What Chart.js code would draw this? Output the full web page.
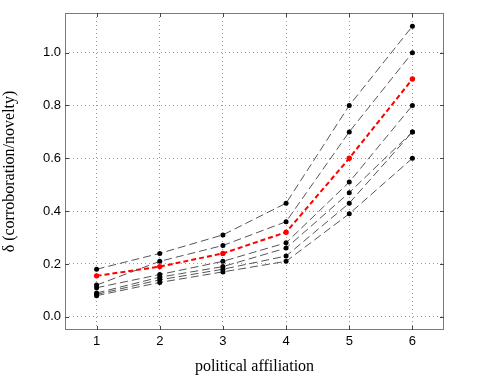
<!DOCTYPE html>
<html>
<head>
<meta charset="utf-8">
<script src="https://cdn.jsdelivr.net/npm/chart.js@4/dist/chart.umd.min.js"></script>
<style>
html,body{margin:0;padding:0;background:#fff;}
#wrap{width:491px;height:378px;position:relative;}
</style>
</head>
<body>
<div id="wrap"><canvas id="c" width="491" height="378"></canvas></div>
<script>
const categories = [1, 2, 3, 4, 5, 6];
const seriesA = [0.18, 0.24, 0.31, 0.43, 0.80, 1.10];
const seriesB = [0.12, 0.21, 0.27, 0.36, 0.70, 1.00];
const seriesC = [0.11, 0.16, 0.21, 0.28, 0.51, 0.80];
const seriesD = [0.09, 0.15, 0.19, 0.26, 0.47, 0.70];
const seriesE = [0.085, 0.14, 0.18, 0.23, 0.43, 0.70];
const seriesF = [0.08, 0.13, 0.17, 0.21, 0.39, 0.60];
const seriesRed = [0.155, 0.19, 0.24, 0.32, 0.60, 0.90];
const yTicks = [0.0, 0.2, 0.4, 0.6, 0.8, 1.0];
const xTitle = 'political affiliation';
const yTitle = 'δ (corroboration/novelty)';

function toXY(arr){ return arr.map((v,i)=>({x:categories[i], y:v})); }
function blackSet(arr){
  return {data: toXY(arr), borderColor:'#555', borderWidth:1, borderDash:[8,4],
    pointRadius:2.5, pointBackgroundColor:'#000', pointBorderColor:'#000', pointBorderWidth:0, fill:false, tension:0};
}
const datasets = [seriesA, seriesB, seriesC, seriesD, seriesE, seriesF].map(blackSet);
datasets.push({data: toXY(seriesRed), borderColor:'#ff0000', borderWidth:2, borderDash:[5,3],
  pointRadius:2.7, pointBackgroundColor:'#ff0000', pointBorderColor:'#ff0000', pointBorderWidth:0, fill:false, tension:0});

const boxPlugin = {
  id:'box',
  afterDraw(chart){
    const {ctx, chartArea:a, scales} = chart;
    ctx.save();
    ctx.strokeStyle = '#7a7a7a';
    ctx.lineWidth = 1;
    ctx.setLineDash([]);
    ctx.strokeRect(Math.round(a.left)+0.5, Math.round(a.top)+0.5, Math.round(a.right-a.left)-1, Math.round(a.bottom-a.top)-1);
    ctx.strokeStyle = '#444';
    ctx.beginPath();
    const L = 4;
    scales.x.ticks.forEach((t,i)=>{
      const px = Math.round(scales.x.getPixelForTick(i))+0.5;
      ctx.moveTo(px, a.bottom); ctx.lineTo(px, a.bottom-L);
      ctx.moveTo(px, a.top); ctx.lineTo(px, a.top+L);
    });
    scales.y.ticks.forEach((t,i)=>{
      const py = Math.round(scales.y.getPixelForTick(i))+0.5;
      ctx.moveTo(a.left, py); ctx.lineTo(a.left+L, py);
      ctx.moveTo(a.right, py); ctx.lineTo(a.right-L, py);
    });
    ctx.stroke();
    ctx.restore();
  }
};

new Chart(document.getElementById('c'), {
  type:'line',
  data:{datasets},
  plugins:[boxPlugin],
  options:{
    responsive:false,
    animation:false,
    events:[],
    layout:{padding:{left:0, right:47, top:13, bottom:0}},
    plugins:{legend:{display:false}, tooltip:{enabled:false}},
    scales:{
      x:{
        type:'linear', min:0.5, max:6.5,
        afterBuildTicks(s){ s.ticks = categories.map(v=>({value:v})); },
        ticks:{font:{family:'Liberation Sans', size:13}, color:'#000', padding:4, maxRotation:0},
        grid:{color:'#999', lineWidth:1, drawTicks:false},
        border:{display:false, dash:[1,3]},
        title:{display:true, text:xTitle, font:{family:'Liberation Serif', size:16}, color:'#000', padding:{top:4,bottom:2}},
        afterFit(s){ s.height = 48; }
      },
      y:{
        type:'linear', min:-0.05, max:1.15,
        afterBuildTicks(s){ s.ticks = yTicks.map(v=>({value:v})); },
        ticks:{font:{family:'Liberation Sans', size:13}, color:'#000', padding:4,
          callback:(v)=>Number(v).toFixed(1)},
        grid:{color:'#999', lineWidth:1, drawTicks:false},
        border:{display:false, dash:[1,3]},
        title:{display:true, text:yTitle, font:{family:'Liberation Serif', size:16}, color:'#000', padding:{top:0,bottom:6}},
        afterFit(s){ s.width = 65; }
      }
    }
  }
});
</script>
</body>
</html>
